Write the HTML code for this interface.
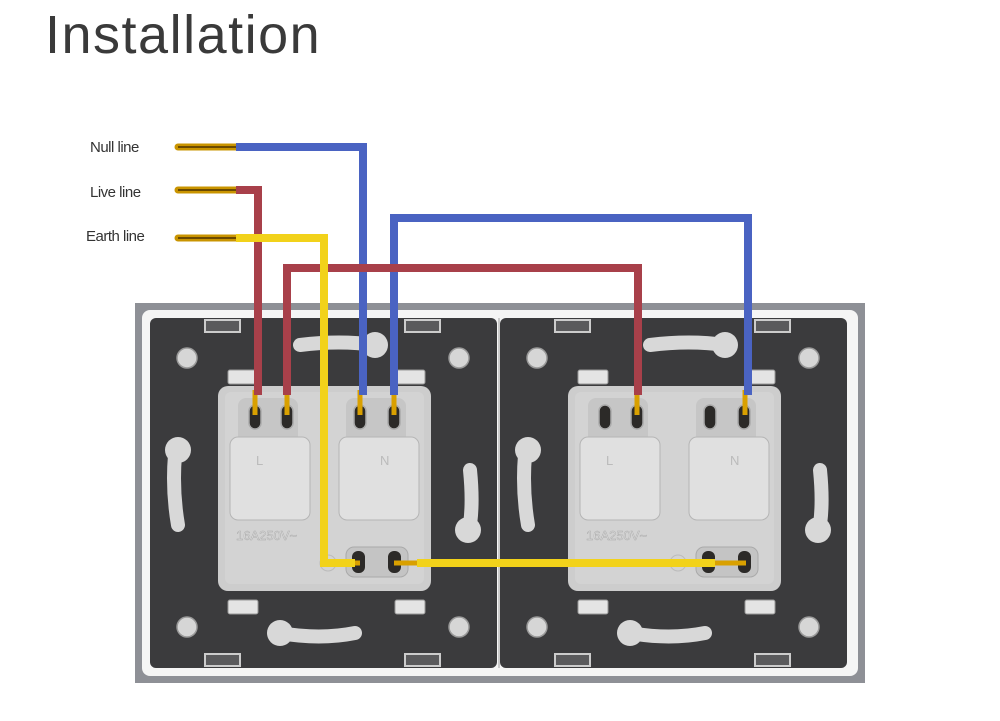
<!DOCTYPE html>
<html><head><meta charset="utf-8"><style>
html,body{margin:0;padding:0;background:#fff;width:1000px;height:721px;overflow:hidden}
.t{position:absolute;left:45px;top:4px;font:300 54px "Liberation Sans",sans-serif;color:#3a3a3a;letter-spacing:1.5px}
.l{position:absolute;font:15px "Liberation Sans",sans-serif;color:#333;letter-spacing:-0.5px}
</style></head><body>
<div class="t">Installation</div>
<div class="l" style="left:90px;top:139px">Null line</div>
<div class="l" style="left:90px;top:184px">Live line</div>
<div class="l" style="left:86px;top:228px">Earth line</div>
<svg width="1000" height="721" style="position:absolute;left:0;top:0">
<defs>
<g id="plate">
<rect x="150" y="318" width="347" height="350" rx="6" fill="#3b3b3d"/>
<rect x="205" y="320" width="35" height="12" fill="#5a5a5c" stroke="#ccc" stroke-width="2"/>
<rect x="405" y="320" width="35" height="12" fill="#5a5a5c" stroke="#ccc" stroke-width="2"/>
<rect x="205" y="654" width="35" height="12" fill="#5a5a5c" stroke="#ccc" stroke-width="2"/>
<rect x="405" y="654" width="35" height="12" fill="#5a5a5c" stroke="#ccc" stroke-width="2"/>
<g fill="#d6d6d6" stroke="#999" stroke-width="1.5">
<circle cx="187" cy="358" r="10"/><circle cx="459" cy="358" r="10"/>
<circle cx="187" cy="627" r="10"/><circle cx="459" cy="627" r="10"/>
</g>
<g stroke="#d8d8d8" stroke-width="14" stroke-linecap="round" fill="none">
<path d="M300 345 Q340 340 375 345"/><path d="M280 633 Q320 640 355 633"/>
<path d="M175 455 Q172 490 178 525"/><path d="M470 470 Q474 510 468 535"/>
</g>
<g fill="#d8d8d8"><circle cx="375" cy="345" r="13"/><circle cx="280" cy="633" r="13"/>
<circle cx="178" cy="450" r="13"/><circle cx="468" cy="530" r="13"/></g>
<rect x="228" y="370" width="30" height="14" rx="2" fill="#e4e4e4" stroke="#999"/>
<rect x="395" y="370" width="30" height="14" rx="2" fill="#e4e4e4" stroke="#999"/>
<rect x="228" y="600" width="30" height="14" rx="2" fill="#e4e4e4" stroke="#999"/>
<rect x="395" y="600" width="30" height="14" rx="2" fill="#e4e4e4" stroke="#999"/>
<rect x="218" y="386" width="213" height="205" rx="10" fill="#cdcdcd"/>
<rect x="225" y="392" width="199" height="192" rx="6" fill="#d3d3d3"/>
<g fill="#c6c6c6"><rect x="238" y="398" width="60" height="45" rx="8"/><rect x="346" y="398" width="60" height="45" rx="8"/></g>
<rect x="230" y="437" width="80" height="83" rx="8" fill="#e0e0e0" stroke="#b5b5b5"/>
<rect x="339" y="437" width="80" height="83" rx="8" fill="#e0e0e0" stroke="#b5b5b5"/>
<g fill="#2c2a28" stroke="#aaa" stroke-width="1.5">
<rect x="249" y="405" width="12" height="24" rx="6"/><rect x="281" y="405" width="12" height="24" rx="6"/>
<rect x="354" y="405" width="12" height="24" rx="6"/><rect x="388" y="405" width="12" height="24" rx="6"/>
</g>
<text x="256" y="465" font-family="Liberation Sans" font-size="13" fill="#bbb">L</text>
<text x="380" y="465" font-family="Liberation Sans" font-size="13" fill="#bbb">N</text>
<text x="236" y="540" font-family="Liberation Sans" font-size="13" fill="#e6e6e6" stroke="#aaa" stroke-width=".5">16A250V~</text>
<rect x="346" y="547" width="62" height="30" rx="8" fill="#c4c4c4" stroke="#aaa"/>
<g fill="#2c2a28"><rect x="352" y="551" width="13" height="22" rx="6"/><rect x="388" y="551" width="13" height="22" rx="6"/></g>
<circle cx="328" cy="563" r="8" fill="none" stroke="#bbb"/>
</g>
</defs>
<rect x="135" y="303" width="730" height="380" fill="#8e9096"/>
<rect x="142" y="310" width="716" height="366" rx="8" fill="#f5f5f5"/>
<use href="#plate"/>
<use href="#plate" transform="translate(350,0)"/>
<line x1="499" y1="318" x2="499" y2="668" stroke="#bbb" stroke-width="1.5"/>
<g stroke="#c99400" stroke-width="7" stroke-linecap="round">
<line x1="178" y1="147" x2="238" y2="147"/><line x1="178" y1="190" x2="238" y2="190"/><line x1="178" y1="238" x2="238" y2="238"/>
</g>
<g stroke="#6b4a00" stroke-width="2"><line x1="178" y1="147" x2="236" y2="147"/><line x1="178" y1="190" x2="236" y2="190"/><line x1="178" y1="238" x2="236" y2="238"/></g>
<g stroke="#d9a000" stroke-width="5">
<line x1="255" y1="390" x2="255" y2="415"/><line x1="287" y1="390" x2="287" y2="415"/>
<line x1="360" y1="390" x2="360" y2="415"/><line x1="394" y1="390" x2="394" y2="415"/>
<line x1="637" y1="390" x2="637" y2="415"/><line x1="745" y1="390" x2="745" y2="415"/>
<line x1="330" y1="563" x2="360" y2="563"/><line x1="394" y1="563" x2="420" y2="563"/><line x1="715" y1="563" x2="746" y2="563"/>
</g>
<g fill="none" stroke-width="8" stroke-linejoin="miter">
<path d="M236 147 H363 V395" stroke="#4a63c2"/>
<path d="M394 395 V218 H748 V395" stroke="#4a63c2"/>
<path d="M236 190 H258 V395" stroke="#a8404a"/>
<path d="M287 395 V268 H638 V395" stroke="#a8404a"/>
<path d="M236 238 H324 V563 H355" stroke="#f2d21a"/>
<path d="M417 563 H715" stroke="#f2d21a"/>
</g>
</svg>
</body></html>
